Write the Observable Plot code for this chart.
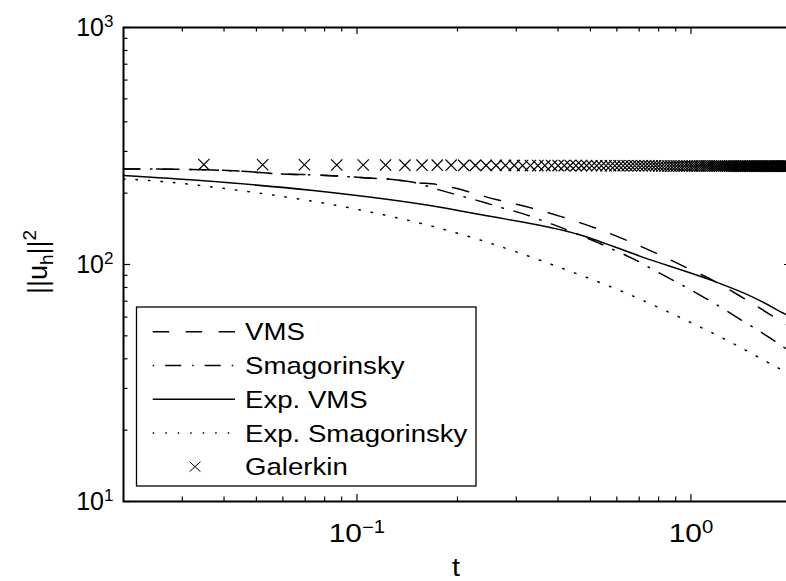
<!DOCTYPE html>
<html><head><meta charset="utf-8">
<script src="https://cdn.jsdelivr.net/npm/d3@7"></script>
<script src="https://cdn.jsdelivr.net/npm/@observablehq/plot@0.6"></script>
<style>
html,body{margin:0;padding:0;background:#fff;overflow:hidden}
svg{display:block;overflow:hidden}
</style>
</head><body><div id="chart"></div>
<script>
// ---- data ----
const tVMS = [0.02, 0.0356, 0.0469, 0.0562, 0.074, 0.0935, 0.1119, 0.132, 0.1474, 0.1751, 0.263, 0.3292, 0.411, 0.5117, 0.6348, 0.783, 0.9647, 1.1825, 1.451, 1.7617, 2.0];
const yVMS = [253.2, 250.8, 246.6, 241.9, 238.8, 234.9, 231.1, 227.5, 222.3, 217.3, 187.5, 173.8, 158.8, 143.3, 127.3, 111.9, 97.3, 84.7, 71.5, 60.4, 54.0];

const tSmag = [0.02, 0.0356, 0.0469, 0.0562, 0.074, 0.0935, 0.1119, 0.132, 0.1474, 0.1751, 0.241, 0.2753, 0.3153, 0.3599, 0.411, 0.4688, 0.5325, 0.6037, 0.6843, 0.7727, 0.873, 0.987, 1.1166, 1.2562, 1.415, 1.5938, 1.7886, 2.0];
const ySmag = [253.2, 250.8, 246.6, 241.9, 238.8, 234.9, 231.1, 227.5, 222.3, 207.0, 182.5, 172.5, 163.5, 152.9, 142.7, 132.4, 122.8, 113.3, 104.3, 94.9, 86.6, 78.9, 71.5, 64.8, 58.3, 52.6, 47.4, 42.4];

const tExpVMS = [0.02, 0.034, 0.074, 0.1776, 0.2339, 0.4662, 0.7195, 1.1424, 1.5367, 1.929, 2.0];
const yExpVMS = [237.2, 226.0, 205.0, 174.3, 162.4, 133.3, 107.2, 86.1, 72.7, 61.4, 59.8];

const tExpSmag = [0.02, 0.0217, 0.0472, 0.1023, 0.1695, 0.2339, 0.3835, 0.624, 0.927, 1.2667, 1.8512, 2.0];
const yExpSmag = [229.6, 228.2, 203.0, 169.9, 144.5, 126.9, 99.9, 76.8, 59.8, 48.3, 36.2, 34.2];

const tGal = [0.0348,0.0522,0.0696,0.087,0.1044,0.1218,0.1392,0.1566,0.174,0.1914,0.2088,0.2262,0.2436,0.261,0.2784,0.2958,0.3132,0.3306,0.348,0.3654,0.3828,0.4002,0.4176,0.435,0.4524,0.4698,0.4872,0.5046,0.522,0.5394,0.5568,0.5742,0.5916,0.609,0.6264,0.6438,0.6612,0.6786,0.696,0.7134,0.7308,0.7482,0.7656,0.783,0.8004,0.8178,0.8352,0.8526,0.87,0.8874,0.9048,0.9222,0.9396,0.957,0.9744,0.9918,1.0092,1.0266,1.044,1.0614,1.0788,1.0962,1.1136,1.131,1.1484,1.1658,1.1832,1.2006,1.218,1.2354,1.2528,1.2702,1.2876,1.305,1.3224,1.3398,1.3572,1.3746,1.392,1.4094,1.4268,1.4442,1.4616,1.479,1.4964,1.5138,1.5312,1.5486,1.566,1.5834,1.6008,1.6182,1.6356,1.653,1.6704,1.6878,1.7052,1.7226,1.74,1.7574,1.7748,1.7922,1.8096,1.827,1.8444,1.8618,1.8792,1.8966,1.914,1.9314,1.9488,1.9662,1.9836];
const yGal = [264,263.5,263.5,263,263,263,262.5,262.5,262.5,262.5,262,262,262,262,262,262,261.5,261.5,261.5,261.5,261.5,261.5,261.5,261.5,261.5,261.5,261.5,261,261,261,261,261,261,261,261,261,261,261,261,261,261,261,261,261,260.5,260.5,260.5,260.5,260.5,260.5,260.5,260.5,260.5,260.5,260.5,260.5,260.5,260.5,260.5,260.5,260.5,260.5,260.5,260.5,260.5,260.5,260.5,260.5,260.5,260.5,260.5,260.5,260,260,260,260,260,260,260,260,260,260,260,260,260,260,260,260,260,260,260,260,260,260,260,260,260,260,260,260,260,260,260,260,260,260,260,260,260,260,260,260,260,260,260,260,260];

const xMajor = [0.1, 1];
const xMinor = [0.03, 0.04, 0.05, 0.06, 0.07, 0.08, 0.09, 0.2, 0.3, 0.4, 0.5, 0.6, 0.7, 0.8, 0.9, 2];
const yMajor = [10, 100, 1000];
const yMinor = [20, 30, 40, 50, 60, 70, 80, 90, 200, 300, 400, 500, 600, 700, 800, 900];

const legendLabels = ["VMS", "Smagorinsky", "Exp. VMS", "Exp. Smagorinsky", "Galerkin"];

// ---- build tables ----
const rows = (ts, ys) => ts.map((t, i) => ({t, y: ys[i]}));
const dVMS = rows(tVMS, yVMS), dSmag = rows(tSmag, ySmag), dEV = rows(tExpVMS, yExpVMS), dES = rows(tExpSmag, yExpSmag), dGal = rows(tGal, yGal);

const W = 786, H = 581, ML = 123, MR = -5, MT = 27, MB = 80;
const innerW = W - ML - MR, innerH = H - MT - MB;
const dashVMS = "16.5,16.5", dashSmag = "16,11,1.5,11", dashES = "1.5,11";
const FONT = "'Liberation Sans', Arial, Helvetica, sans-serif";
const expFmtX = d => "X10^" + Math.round(Math.log10(d));
const expFmtY = d => "Y10^" + Math.round(Math.log10(d));
const MAJ = 7, MIN = 4.5;
const SX = 1.15; // horizontal stretch of the reference's lettering

const chart = Plot.plot({
  width: W, height: H,
  marginLeft: ML, marginRight: MR, marginTop: MT, marginBottom: MB,
  x: {type: "log", domain: [0.02, 2]},
  y: {type: "log", domain: [10, 1000]},
  style: {fontFamily: FONT, fontSize: "25px", color: "black", background: "white", overflow: "hidden"},
  marks: [
    Plot.line(dVMS, {x: "t", y: "y", stroke: "black", strokeWidth: 1.5, strokeDasharray: dashVMS, curve: "monotone-x"}),
    Plot.line(dSmag, {x: "t", y: "y", stroke: "black", strokeWidth: 1.5, strokeDasharray: dashSmag, curve: "monotone-x"}),
    Plot.line(dEV, {x: "t", y: "y", stroke: "black", strokeWidth: 1.5, curve: "monotone-x"}),
    Plot.line(dES, {x: "t", y: "y", stroke: "black", strokeWidth: 1.5, strokeDasharray: dashES, curve: "monotone-x"}),
    Plot.dot(dGal, {x: "t", y: "y", symbol: "times", r: 5.2, stroke: "black", strokeWidth: 1.2}),
    // inward ticks (bottom / top / left / right)
    Plot.tickX(xMajor, {x: d => d, stroke: "black", strokeWidth: 1.2, insetTop: innerH - MAJ}),
    Plot.tickX(xMinor, {x: d => d, stroke: "black", strokeWidth: 1.2, insetTop: innerH - MIN}),
    Plot.tickX(xMajor, {x: d => d, stroke: "black", strokeWidth: 1.2, insetBottom: innerH - MAJ}),
    Plot.tickX(xMinor, {x: d => d, stroke: "black", strokeWidth: 1.2, insetBottom: innerH - MIN}),
    Plot.tickY(yMajor, {y: d => d, stroke: "black", strokeWidth: 1.2, insetRight: innerW - MAJ}),
    Plot.tickY(yMinor, {y: d => d, stroke: "black", strokeWidth: 1.2, insetRight: innerW - MIN}),
    Plot.tickY(yMajor, {y: d => d, stroke: "black", strokeWidth: 1.2, insetLeft: innerW - MAJ}),
    Plot.tickY(yMinor, {y: d => d, stroke: "black", strokeWidth: 1.2, insetLeft: innerW - MIN}),
    // tick labels
    Plot.axisX(xMajor, {anchor: "bottom", tickSize: 0, tickPadding: 22, tickFormat: expFmtX, label: null, fontSize: 26}),
    Plot.axisY(yMajor, {anchor: "left", tickSize: 0, tickPadding: 10, tickFormat: expFmtY, label: null, fontSize: 25}),
    Plot.frame({stroke: "black", strokeWidth: 2})
  ]
});
document.getElementById("chart").appendChild(chart);

// superscripts in tick labels (+ horizontal stretch for the bottom ones)
chart.querySelectorAll("text").forEach(el => {
  const m = /^([XY])10\^(-?\d+)$/.exec(el.textContent);
  if (!m) return;
  el.textContent = "10";
  const ts = document.createElementNS("http://www.w3.org/2000/svg", "tspan");
  ts.setAttribute("dy", "-0.5em");
  ts.setAttribute("font-size", "0.68em");
  ts.textContent = m[2].replace("-", "\u2212");
  el.appendChild(ts);
  if (m[1] === "X") {
    const b = el.getBBox();
    const cx = b.x + b.width / 2;
    const prev = el.getAttribute("transform") || "";
    el.setAttribute("transform", `${prev} translate(${cx},0) scale(${SX},1) translate(${-cx},0)`);
  }
});

const svg = d3.select(chart);
// axis titles
const yl = svg.append("text").attr("transform", "translate(47,262) rotate(-90)")
  .attr("text-anchor", "middle").style("font-size", "27px").style("font-family", FONT).attr("fill", "black");
yl.append("tspan").text("||u");
yl.append("tspan").attr("dy", 6).attr("font-size", "19px").text("h");
yl.append("tspan").attr("dy", -6).text("||");
yl.append("tspan").attr("dy", -11).attr("font-size", "19px").text("2");
svg.append("text").attr("transform", `translate(456,576) scale(${SX},1)`).attr("text-anchor", "middle")
  .style("font-size", "25px").style("font-family", FONT).attr("fill", "black").text("t");

// legend
const lg = svg.append("g");
lg.append("rect").attr("x", 136.5).attr("y", 307).attr("width", 339.5).attr("height", 179)
  .attr("fill", "white").attr("stroke", "black").attr("stroke-width", 1.3);
const styles = [
  {dash: dashVMS, off: 0},
  {dash: dashSmag, off: 27},
  {dash: null, off: 0},
  {dash: dashES, off: 0},
  null
];
legendLabels.forEach((lab, i) => {
  const y = 331.7 + i * 33.75;
  const s = styles[i];
  if (s) {
    const ln = lg.append("line").attr("x1", 152.7).attr("x2", 235).attr("y1", y).attr("y2", y)
      .attr("stroke", "black").attr("stroke-width", 1.5);
    if (s.dash) ln.attr("stroke-dasharray", s.dash).attr("stroke-dashoffset", s.off);
  } else {
    lg.append("path").attr("d", `M${195-5.5},${y-5}L${195+5.5},${y+5}M${195-5.5},${y+5}L${195+5.5},${y-5}`)
      .attr("stroke", "black").attr("stroke-width", 1).attr("fill", "none");
  }
  lg.append("text").attr("transform", `translate(245,${y}) scale(${SX},1)`).attr("dy", "0.36em").attr("text-anchor", "start")
    .style("font-size", "24px").style("font-family", FONT).attr("fill", "black").text(lab);
});
</script>
</body></html>
